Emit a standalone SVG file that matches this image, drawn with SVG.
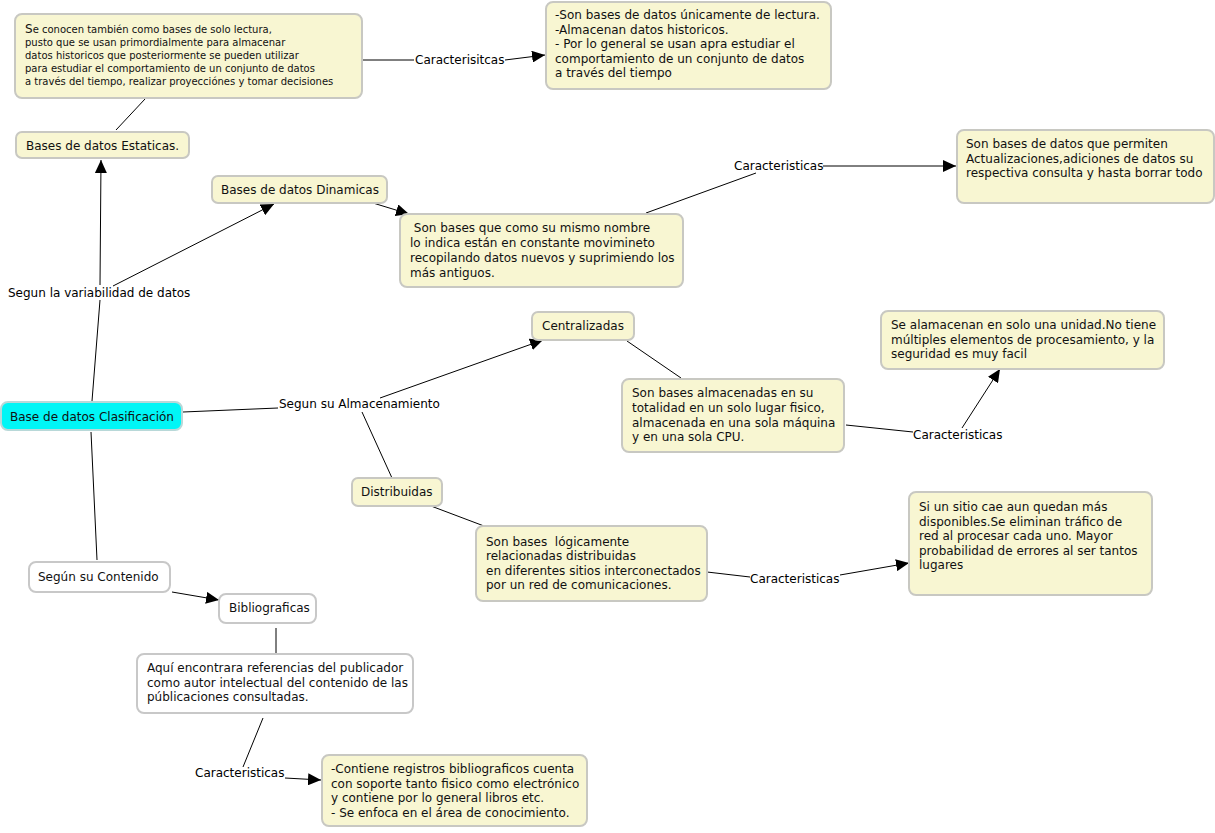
<svg xmlns="http://www.w3.org/2000/svg" width="1215" height="833" viewBox="0 0 1215 833">
<defs>
<marker id="arr" markerUnits="userSpaceOnUse" markerWidth="14" markerHeight="12" refX="13" refY="6" orient="auto">
<path d="M0,0 L13,6 L0,12 Z" fill="#000"/>
</marker>
<style>
.y{fill:#f8f6d2;stroke:#c8c8c2;stroke-width:2}
.w{fill:#ffffff;stroke:#c8c8c8;stroke-width:2}
.c{fill:#00f6f6;stroke:#b8d8d8;stroke-width:2}
text{font-family:"DejaVu Sans",Verdana,sans-serif;font-size:12px;fill:#111}
.s{font-size:10px}
.l{fill:#000}
.e line{stroke:#000;stroke-width:1;fill:none}
.a{marker-end:url(#arr)}
</style>
</defs>
<rect width="1215" height="833" fill="#fff"/>
<g class="e">
<line x1="362" y1="60" x2="414" y2="60"/>
<line class="a" x1="505" y1="60" x2="545" y2="55"/>
<line x1="116" y1="130" x2="145" y2="99"/>
<line class="a" x1="100" y1="285" x2="101" y2="160"/>
<line class="a" x1="113" y1="286" x2="274" y2="204"/>
<line x1="100" y1="300" x2="92" y2="401"/>
<line x1="346" y1="203.5" x2="370" y2="203.5" stroke-dasharray="1,2"/>
<line class="a" x1="373" y1="203" x2="409" y2="214"/>
<line x1="646" y1="213" x2="756" y2="173"/>
<line class="a" x1="823" y1="166" x2="956" y2="166"/>
<line x1="183" y1="412" x2="278" y2="408"/>
<line class="a" x1="380" y1="398" x2="543" y2="340"/>
<line x1="362" y1="412" x2="392" y2="478"/>
<line x1="627" y1="341" x2="681" y2="378"/>
<line x1="846" y1="425" x2="913" y2="432"/>
<line class="a" x1="962" y1="428" x2="1000" y2="369"/>
<line x1="431" y1="506" x2="484" y2="526"/>
<line x1="707" y1="572" x2="750" y2="577"/>
<line class="a" x1="840" y1="575" x2="909" y2="563"/>
<line x1="91" y1="432" x2="97" y2="560"/>
<line class="a" x1="172" y1="592" x2="219" y2="600"/>
<line x1="276" y1="628" x2="276" y2="654"/>
<line x1="263" y1="718" x2="243" y2="767"/>
<line class="a" x1="285" y1="778" x2="321" y2="780"/>
</g>
<g id="n-estaticas-desc"><rect class="y" x="15" y="14" width="347" height="84" rx="7"/>
<text class="s" x="25" y="33"><tspan font-size="12">S</tspan>e conocen también como bases de solo lectura,</text>
<text class="s" x="25" y="46">pusto que se usan primordialmente para almacenar</text>
<text class="s" x="25" y="59">datos historicos que posteriormente se pueden utilizar</text>
<text class="s" x="25" y="72">para estudiar el comportamiento de un conjunto de datos</text>
<text class="s" x="25" y="85">a través del tiempo, realizar proyecciónes y tomar decisiones</text></g>
<g id="l-carac1"><text class="l" x="415" y="64">Caracterisitcas</text></g>
<g id="n-estaticas-carac"><rect class="y" x="546" y="2" width="285" height="87" rx="7"/>
<text x="555" y="19">-Son bases de datos únicamente de lectura.</text>
<text x="555" y="34">-Almacenan datos historicos.</text>
<text x="555" y="48">- Por lo general se usan apra estudiar el</text>
<text x="555" y="63">comportamiento de un conjunto de datos</text>
<text x="555" y="77">a través del tiempo</text></g>
<g id="n-estaticas"><rect class="y" x="16" y="132" width="173" height="26" rx="6"/>
<text x="26" y="150">Bases de datos Estaticas.</text></g>
<g id="n-dinamicas"><rect class="y" x="212" y="176" width="175" height="27" rx="6"/>
<text x="221" y="194">Bases de datos Dinamicas</text></g>
<g id="n-dinamicas-desc"><rect class="y" x="400" y="214" width="283" height="73" rx="7"/>
<text x="410" y="232" xml:space="preserve"> Son bases que como su mismo nombre</text>
<text x="410" y="247">lo indica están en constante movimineto</text>
<text x="410" y="262">recopilando datos nuevos y suprimiendo los</text>
<text x="410" y="277">más antiguos.</text></g>
<g id="l-carac2"><text class="l" x="734" y="170">Caracteristicas</text></g>
<g id="n-dinamicas-carac"><rect class="y" x="957" y="130" width="257" height="73" rx="7"/>
<text x="966" y="148">Son bases de datos que permiten</text>
<text x="966" y="163">Actualizaciones,adiciones de datos su</text>
<text x="966" y="177">respectiva consulta y hasta borrar todo</text></g>
<g id="l-variabilidad"><text class="l" x="8" y="297">Segun la variabilidad de datos</text></g>
<g id="n-central"><rect class="c" x="1" y="402" width="181" height="28" rx="7"/>
<text x="10" y="421">Base de datos Clasificación</text></g>
<g id="l-almacenamiento"><text class="l" x="279" y="408">Segun su Almacenamiento</text></g>
<g id="n-centralizadas"><rect class="y" x="532" y="312" width="102" height="28" rx="6"/>
<text x="542" y="330">Centralizadas</text></g>
<g id="n-centralizadas-desc"><rect class="y" x="622" y="379" width="222" height="73" rx="7"/>
<text x="632" y="397">Son bases almacenadas en su</text>
<text x="632" y="412">totalidad en un solo lugar fisico,</text>
<text x="632" y="427">almacenada en una sola máquina</text>
<text x="632" y="441">y en una sola CPU.</text></g>
<g id="l-carac3"><text class="l" x="913" y="439">Caracteristicas</text></g>
<g id="n-centralizadas-carac"><rect class="y" x="881" y="311" width="283" height="58" rx="7"/>
<text x="891" y="329">Se alamacenan en solo una unidad.No tiene</text>
<text x="891" y="344">múltiples elementos de procesamiento, y la</text>
<text x="891" y="358">seguridad es muy facil</text></g>
<g id="n-distribuidas"><rect class="y" x="352" y="478" width="90" height="28" rx="6"/>
<text x="361" y="496">Distribuidas</text></g>
<g id="n-distribuidas-desc"><rect class="y" x="476" y="526" width="231" height="75" rx="7"/>
<text x="486" y="546" xml:space="preserve">Son bases  lógicamente</text>
<text x="486" y="560">relacionadas distribuidas</text>
<text x="486" y="575">en diferentes sitios interconectados</text>
<text x="486" y="589">por un red de comunicaciones.</text></g>
<g id="l-carac4"><text class="l" x="750" y="583">Caracteristicas</text></g>
<g id="n-distribuidas-carac"><rect class="y" x="909" y="492" width="243" height="103" rx="7"/>
<text x="919" y="511">Si un sitio cae aun quedan más</text>
<text x="919" y="526">disponibles.Se eliminan tráfico de</text>
<text x="919" y="540">red al procesar cada uno. Mayor</text>
<text x="919" y="555">probabilidad de errores al ser tantos</text>
<text x="919" y="569">lugares</text></g>
<g id="n-contenido"><rect class="w" x="29" y="562" width="141" height="30" rx="7"/>
<text x="38" y="581">Según su Contenido</text></g>
<g id="n-bibliograficas"><rect class="w" x="219" y="594" width="97" height="29" rx="7"/>
<text x="229" y="612">Bibliograficas</text></g>
<g id="n-bibliograficas-desc"><rect class="w" x="137" y="654" width="276" height="59" rx="7"/>
<text x="147" y="672">Aquí encontrara referencias del publicador</text>
<text x="147" y="687">como autor intelectual del contenido de las</text>
<text x="147" y="701">públicaciones consultadas.</text></g>
<g id="l-carac5"><text class="l" x="195" y="777">Caracteristicas</text></g>
<g id="n-bibliograficas-carac"><rect class="y" x="322" y="755" width="265" height="71" rx="7"/>
<text x="331" y="773">-Contiene registros bibliograficos cuenta</text>
<text x="331" y="788">con soporte tanto fisico como electrónico</text>
<text x="331" y="802">y contiene por lo general libros etc.</text>
<text x="331" y="817">- Se enfoca en el área de conocimiento.</text></g>
</svg>
